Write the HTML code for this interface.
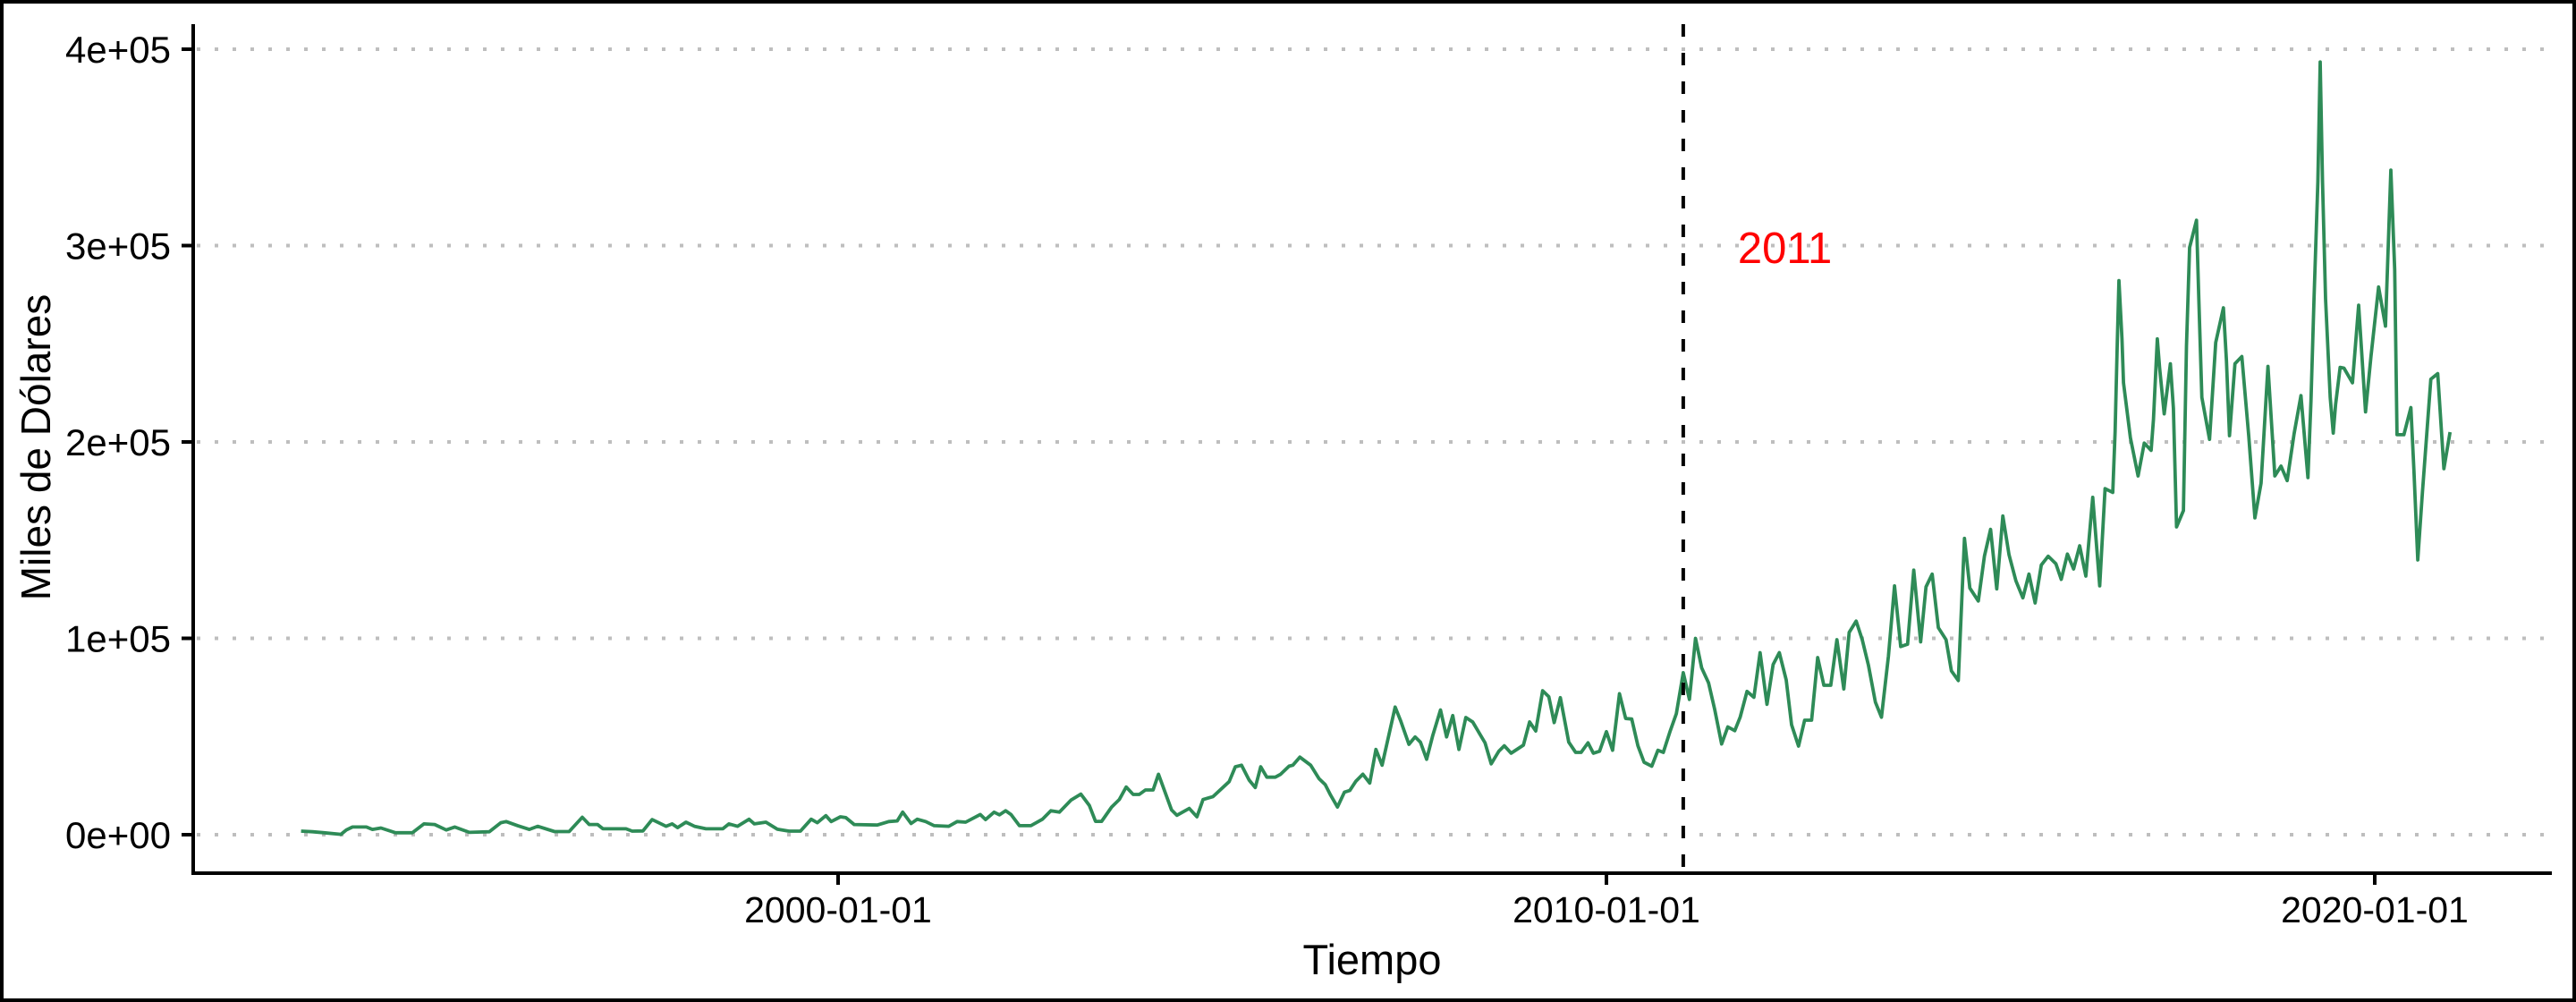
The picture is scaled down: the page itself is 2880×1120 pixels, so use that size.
<!DOCTYPE html>
<html><head><meta charset="utf-8">
<style>
html,body{margin:0;padding:0;background:#fff;}
svg{display:block;font-family:"Liberation Sans",Arial,sans-serif;}
</style></head>
<body>
<svg id="chart" width="2880" height="1120" viewBox="0 0 2880 1120" xmlns="http://www.w3.org/2000/svg">
<rect x="2" y="2" width="2876" height="1116" fill="#fff" stroke="#000" stroke-width="4"/>
<g id="grid"></g>
<g id="axes"></g>
<g id="series"></g>
<text x="1534" y="1089" font-size="47" text-anchor="middle" fill="#000">Tiempo</text>
<text x="0" y="0" font-size="46" text-anchor="middle" fill="#000" transform="translate(56,500) rotate(-90)">Miles de Dólares</text>
</svg>
<script>
const yTicks = [0, 100000, 200000, 300000, 400000];
const yTickLabels = ["0e+00", "1e+05", "2e+05", "3e+05", "4e+05"];
const xTicks = [2000, 2010, 2020];
const xTickLabels = ["2000-01-01", "2010-01-01", "2020-01-01"];
const markerYear = [2011];
const markerLabel = ["2011"];
const dates = [
1993.01,1993.16,1993.31,1993.53,1993.60,1993.68,1993.86,1993.94,1994.05,1994.24,1994.46,1994.61,1994.75,1994.90,1995.01,1995.20,1995.46,1995.61,1995.68,1995.83,1995.98,1996.09,1996.31,1996.50,1996.67,1996.76,1996.87,1996.94,1997.24,1997.32,1997.46,1997.58,1997.76,1997.84,1997.91,1998.02,1998.13,1998.28,1998.50,1998.58,1998.69,1998.84,1998.91,1999.06,1999.21,1999.36,1999.51,1999.65,1999.73,1999.84,1999.91,2000.03,2000.10,2000.21,2000.51,2000.66,2000.77,2000.84,2000.95,2001.03,2001.14,2001.25,2001.44,2001.55,2001.66,2001.85,2001.92,2002.03,2002.10,2002.18,2002.25,2002.36,2002.51,2002.66,2002.77,2002.88,2003.03,
2003.16,2003.27,2003.35,2003.43,2003.56,2003.66,2003.75,2003.84,2003.92,2004.00,2004.10,2004.17,2004.34,2004.41,2004.57,2004.67,2004.75,2004.88,2005.09,2005.17,2005.25,2005.35,2005.43,2005.50,2005.58,2005.69,2005.76,2005.87,2005.92,2006.01,2006.15,2006.26,2006.34,2006.41,2006.50,2006.59,2006.66,2006.74,2006.83,2006.92,2007.00,2007.08,2007.25,2007.32,2007.43,2007.51,2007.58,2007.66,2007.74,2007.84,2007.92,2008.00,2008.08,2008.17,2008.26,2008.42,2008.50,2008.60,2008.67,2008.76,2008.92,2009.00,2009.08,2009.17,2009.25,2009.32,2009.40,2009.51,2009.60,2009.67,2009.76,2009.83,2009.91,2010.00,2010.08,2010.17,2010.25,2010.33,2010.41,2010.49,2010.59,2010.67,2010.74,2010.83,2010.91,2011.00,
2011.08,2011.16,2011.24,2011.33,2011.41,2011.50,2011.58,2011.67,2011.74,2011.83,2011.92,2012.00,2012.09,2012.17,2012.25,2012.34,2012.41,2012.50,2012.58,2012.67,2012.75,2012.83,2012.92,2013.00,2013.09,2013.16,2013.25,2013.33,2013.41,2013.50,2013.58,2013.67,2013.75,2013.83,2013.92,2014.00,2014.09,2014.16,2014.24,2014.32,2014.42,2014.49,2014.58,2014.66,2014.73,2014.84,2014.92,2015.00,2015.08,2015.16,2015.24,2015.33,2015.42,2015.50,2015.58,2015.66,2015.75,2015.85,2015.92,2016.00,2016.08,2016.16,2016.24,2016.33,2016.42,
2016.49,2016.59,2016.62,2016.65,2016.67,2016.71,2016.73,2016.82,2016.92,2017.00,2017.09,2017.12,2017.17,2017.20,2017.26,2017.34,2017.38,2017.42,2017.51,2017.55,2017.59,2017.68,2017.71,2017.75,2017.85,2017.93,2018.03,2018.07,2018.11,2018.18,2018.27,2018.36,2018.44,2018.52,2018.61,2018.70,2018.78,2018.86,2018.95,2019.04,2019.13,2019.17,2019.21,2019.26,2019.29,2019.32,2019.36,2019.42,2019.46,2019.49,2019.55,2019.60,2019.71,2019.79,2019.88,2019.95,2020.05,2020.14,2020.21,2020.26,2020.29,2020.38,2020.47,2020.51,2020.56,2020.62,2020.73,2020.82,2020.90,2020.98
];
const values = [
1.8,1.5,1.0,0.2,2.4,3.9,3.9,2.7,3.4,1.0,1.0,5.5,5.2,2.4,3.9,1.2,1.5,6.1,6.7,4.6,2.7,4.3,1.6,1.6,8.9,5.2,5.2,3.0,3.0,1.8,1.9,7.7,4.3,5.5,3.6,6.4,4.3,3.0,3.0,5.5,4.3,7.9,5.5,6.4,2.8,1.8,1.8,7.9,6.1,9.7,6.7,9.1,8.7,5.2,4.9,6.7,7.0,11.5,5.7,7.9,6.7,4.6,4.3,6.7,6.4,10.3,7.7,11.5,10.1,12.2,10.3,4.6,4.6,7.9,12.2,11.5,17.6,
20.7,14.9,6.8,6.8,14.1,17.9,24.3,20.5,20.5,22.8,22.8,30.8,12.6,9.9,13.4,9.1,17.9,19.4,27.0,34.6,35.4,27.8,24.0,34.6,29.3,29.3,30.8,34.9,35.4,39.5,35.4,28.5,25.5,20.2,14.1,21.7,22.5,27.3,30.8,26.3,43.4,35.4,65.0,58.2,46.0,49.8,47.1,38.4,50.6,63.5,49.8,60.7,43.4,59.7,57.4,46.8,36.1,42.5,45.3,41.5,45.6,57.4,52.8,73.3,70.3,57.1,69.8,47.1,41.9,41.9,46.8,41.5,42.5,52.5,43.0,71.8,59.2,58.9,45.3,36.9,34.9,43.0,41.9,52.8,61.7,82.5,
68.9,100.0,84.9,77.3,63.7,46.2,54.9,53.0,59.8,73.0,70.0,92.7,66.4,86.7,92.7,78.8,56.0,45.1,58.3,58.3,90.2,76.1,76.1,99.3,74.2,103.0,108.8,99.3,86.4,67.5,59.8,91.0,126.7,95.8,97.0,134.7,98.2,126.2,132.7,105.4,99.3,83.4,78.5,150.9,125.6,119.0,141.8,155.5,125.2,162.3,142.6,129.3,120.6,132.7,118.0,137.3,141.8,138.0,130.0,142.9,135.3,147.1,131.7,171.8,126.7,
176.2,174.3,205.0,251.5,282.2,252.5,230.1,202.2,182.7,199.4,195.7,211.5,252.5,237.6,214.3,239.8,217.1,156.7,165.0,248.8,299.0,312.9,272.9,222.7,201.3,250.6,268.3,241.3,203.2,239.8,243.5,203.2,161.3,179.0,238.5,182.7,187.7,180.3,204.1,223.6,181.8,220.8,272.9,332.5,393.5,332.5,272.9,222.7,204.5,219.0,238.0,237.6,230.1,269.6,215.3,243.2,278.9,259.0,338.4,287.8,203.7,203.7,217.5,185.5,139.9,174.3,232.0,234.8,186.4,205.0
];
const NS = "http://www.w3.org/2000/svg";
const plotLeft = 216, plotRight = 2853, plotTop = 27, plotBottom = 976;
function xScale(year){ return 937 + (year - 2000) * 85.9; }
function yScale(v){ return 933 - v / 100000 * 219.5; }
function mk(tag, attrs, parent){ const e = document.createElementNS(NS, tag); for (const k in attrs) e.setAttribute(k, attrs[k]); parent.appendChild(e); return e; }
const grid = document.getElementById('grid');
const axes = document.getElementById('axes');
const series = document.getElementById('series');
yTicks.forEach((t, i) => {
  const y = yScale(t);
  const g = mk('line', {x1: plotLeft + 4, x2: plotRight, y1: y, y2: y, stroke: '#BEBEBE', 'stroke-width': 4, 'stroke-dasharray': '4 16'}, grid);
  
  
  const tk = mk('line', {x1: plotLeft - 13, x2: plotLeft, y1: y, y2: y, stroke: '#000', 'stroke-width': 4}, axes);
  
  
  const lb = mk('text', {x: 191, y: y + 15, 'font-size': 42, 'text-anchor': 'end', fill: '#000'}, axes);
  lb.textContent = yTickLabels[i];
  
  
});
xTicks.forEach((t, i) => {
  const x = xScale(t);
  const tk = mk('line', {x1: x, x2: x, y1: plotBottom, y2: plotBottom + 13, stroke: '#000', 'stroke-width': 4}, axes);
  
  
  const lb = mk('text', {x: x, y: 1031, 'font-size': 41, 'text-anchor': 'middle', fill: '#000'}, axes);
  lb.textContent = xTickLabels[i];
  
  
});
const ya = mk('line', {x1: plotLeft, x2: plotLeft, y1: plotTop, y2: plotBottom + 2, stroke: '#000', 'stroke-width': 4}, axes);


const xa = mk('line', {x1: plotLeft - 2, x2: plotRight, y1: plotBottom, y2: plotBottom, stroke: '#000', 'stroke-width': 4}, axes);


let d = '';
dates.forEach((yr, i) => { d += (i ? 'L' : 'M') + xScale(yr).toFixed(1) + ' ' + yScale(values[i] * 1000).toFixed(1); });
const path = mk('path', {d: d, fill: 'none', stroke: '#2E8B57', 'stroke-width': 3.8, 'stroke-linejoin': 'round'}, series);


const mx = xScale(markerYear[0]);
const vl = mk('line', {x1: mx, x2: mx, y1: plotTop, y2: plotBottom, stroke: '#000', 'stroke-width': 4, 'stroke-dasharray': '14 18'}, series);


const ml = mk('text', {x: mx + 61, y: 294, 'font-size': 49, fill: '#FF0000'}, series);
ml.textContent = markerLabel[0];


</script>
</body></html>
